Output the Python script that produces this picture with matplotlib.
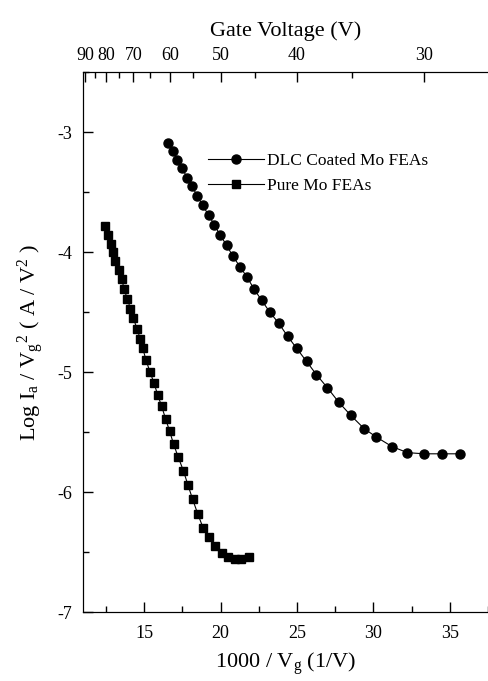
import matplotlib
matplotlib.use('Agg')
import matplotlib.pyplot as plt
from matplotlib.ticker import FixedLocator, MultipleLocator

plt.rcParams['font.family'] = 'Liberation Serif'
plt.rcParams['mathtext.fontset'] = 'custom'
plt.rcParams['mathtext.rm'] = 'Liberation Serif'
plt.rcParams['mathtext.it'] = 'Liberation Serif:italic'

# DLC coated Mo FEAs (circles)
dlc_x = [16.58, 16.90, 17.16, 17.49, 17.80, 18.12, 18.47, 18.82, 19.21, 19.58,
         19.97, 20.39, 20.78, 21.26, 21.74, 22.20, 22.68, 23.22, 23.79, 24.38,
         24.97, 25.62, 26.27, 26.99, 27.73, 28.52, 29.39, 30.19, 31.22, 32.22,
         33.31, 34.46, 35.64]
dlc_y = [-3.09, -3.16, -3.23, -3.30, -3.38, -3.45, -3.53, -3.61, -3.69, -3.77,
         -3.86, -3.94, -4.03, -4.12, -4.21, -4.31, -4.40, -4.50, -4.59, -4.70,
         -4.80, -4.91, -5.02, -5.13, -5.25, -5.36, -5.47, -5.54, -5.62, -5.67,
         -5.68, -5.68, -5.68]

# Pure Mo FEAs (squares)
mo_x = [12.46, 12.66, 12.81, 12.94, 13.11, 13.35, 13.53, 13.68, 13.90, 14.09,
        14.29, 14.53, 14.73, 14.90, 15.12, 15.38, 15.64, 15.88, 16.13, 16.40,
        16.66, 16.92, 17.23, 17.56, 17.86, 18.17, 18.50, 18.86, 19.24, 19.63,
        20.11, 20.46, 20.93, 21.33, 21.87]
mo_y = [-3.78, -3.86, -3.93, -4.00, -4.07, -4.15, -4.22, -4.31, -4.39, -4.47,
        -4.55, -4.64, -4.72, -4.80, -4.90, -5.00, -5.09, -5.19, -5.28, -5.39,
        -5.49, -5.60, -5.71, -5.82, -5.94, -6.06, -6.18, -6.30, -6.37, -6.45,
        -6.51, -6.54, -6.56, -6.56, -6.54]

gate_major = [90, 80, 70, 60, 50, 40, 30]
gate_minor = [85, 75, 65, 55, 45, 35]

fig = plt.figure(figsize=(4.89, 6.81), dpi=100)
ax = fig.add_axes([0.170, 0.101, 0.828, 0.793])

ax.plot(dlc_x, dlc_y, '-', color='black', lw=0.8, marker='o', ms=6.5,
        label='DLC Coated Mo FEAs')
ax.plot(mo_x, mo_y, '-', color='black', lw=0.8, marker='s', ms=5.6,
        label='Pure Mo FEAs')

ax.set_xlim(11, 37.5)
ax.set_ylim(-7, -2.5)
ax.xaxis.set_major_locator(FixedLocator([15, 20, 25, 30, 35]))
ax.xaxis.set_minor_locator(MultipleLocator(2.5))
ax.yaxis.set_major_locator(FixedLocator([-7, -6, -5, -4, -3]))
ax.yaxis.set_minor_locator(MultipleLocator(0.5))
ax.tick_params(which='both', direction='in', labelsize=13, top=False, right=False)
ax.tick_params(which='major', length=7, width=1)
ax.tick_params(axis='x', which='major', pad=9)
ax.tick_params(axis='y', which='major', pad=8)
ax.tick_params(which='minor', length=4, width=1)
ax.spines['right'].set_visible(False)
ax.yaxis.set_major_formatter(plt.FuncFormatter(lambda v, p: '%d' % v))

ax.set_xlabel('1000 / V$_\\mathregular{g}$ (1/V)', fontsize=16, labelpad=6)
ax.set_ylabel('Log I$_\\mathregular{a}$ / V$_\\mathregular{g}$$^\\mathregular{2}$ ( A / V$^\\mathregular{2}$ )',
              fontsize=16, labelpad=8)

# top axis: gate voltage
ax2 = ax.twiny()
ax2.set_xlim(ax.get_xlim())
ax2.set_xticks([1000.0 / v for v in gate_major])
ax2.set_xticklabels([str(v) for v in gate_major])
ax2.set_xticks([1000.0 / v for v in gate_minor], minor=True)
ax2.tick_params(which='both', direction='in', labelsize=13)
ax2.tick_params(which='major', length=7, width=1, pad=6)
ax2.tick_params(which='minor', length=4, width=1)
ax2.spines['right'].set_visible(False)
ax2.set_xlabel('Gate Voltage (V)', fontsize=16, labelpad=8)

ax.legend(loc='upper left', bbox_to_anchor=(0.27, 0.88), frameon=False,
          fontsize=12.5, handlelength=3.2, handletextpad=0.2, labelspacing=0.55)

plt.savefig('out.png', dpi=100)
